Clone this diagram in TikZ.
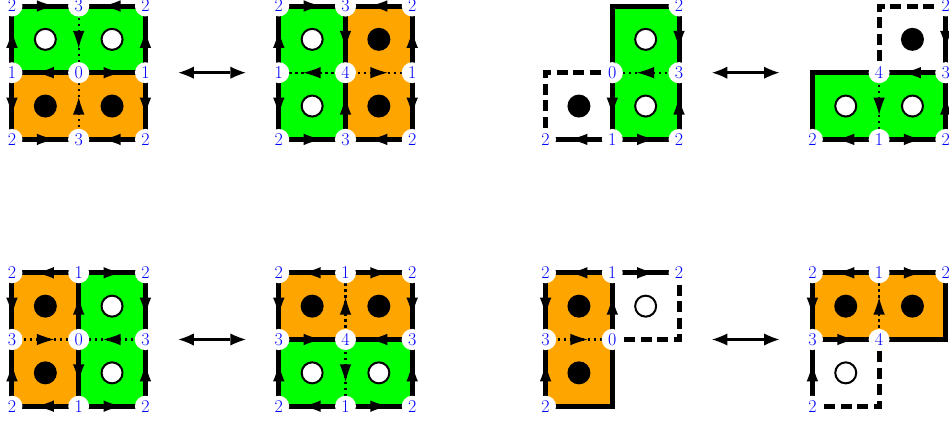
\documentclass[tikz,border=0pt]{standalone}
\usepackage{fontspec}
\usetikzlibrary{arrows.meta,decorations.markings}
\definecolor{gr}{RGB}{0,255,0}
\definecolor{og}{RGB}{255,165,0}
\definecolor{lb}{RGB}{0,0,255}
\tikzset{
 edge/.style={line width=5pt},
 dashedge/.style={line width=5pt, dash pattern=on 11pt off 5.5pt, dash phase=4.8pt},
 dotedge/.style={line width=2.3pt, dash pattern=on 2.2pt off 3.8pt},
 mid/.style={postaction={decorate,decoration={markings,mark=at position 0.5 with {\arrow[xshift=8.5pt]{Latex[length=17pt,width=11.5pt,line width=0pt]}}}}},
 lab/.style={circle,fill=white,inner sep=2.3pt,text=lb,font=\fontsize{18}{20}\selectfont},
 wdisc/.style={circle,draw=black,line width=2pt,fill=white,minimum size=21pt,inner sep=0pt},
 bdisc/.style={circle,fill=black,minimum size=23pt,inner sep=0pt},
 exch/.style={line width=3pt,{Latex[length=15pt,width=12pt,line width=0pt]}-{Latex[length=15pt,width=12pt,line width=0pt]}}
}
\begin{document}
\begin{tikzpicture}[x=66.7pt,y=-66.7pt]
\useasboundingbox (-0.1799,-0.09) rectangle (14.048,6.2219);

% ---------- Panel A ----------
\begin{scope}[shift={(0,0)},name prefix=a-]
\foreach \i in {0,1,2}{\foreach \j in {0,1,2}{\coordinate (c\i\j) at (\i,\j);}}
\fill[gr] (c00) rectangle (c21);
\fill[og] (c01) rectangle (c22);
\node[wdisc] (d1) at (0.5,0.5) {}; \node[wdisc] (d2) at (1.5,0.5) {};
\node[bdisc] (d3) at (0.5,1.5) {}; \node[bdisc] (d4) at (1.5,1.5) {};
\draw[dotedge,mid] (c10) -- (c11);
\draw[dotedge,mid] (c12) -- (c11);
\draw[edge,mid] (c00) -- (c10);
\draw[edge,mid] (c20) -- (c10);
\draw[edge,mid] (c01) -- (c00);
\draw[edge,mid] (c21) -- (c20);
\draw[edge,mid] (c11) -- (c01);
\draw[edge,mid] (c11) -- (c21);
\draw[edge,mid] (c01) -- (c02);
\draw[edge,mid] (c21) -- (c22);
\draw[edge,mid] (c02) -- (c12);
\draw[edge,mid] (c22) -- (c12);
\node[lab] (n00) at (c00) {2}; \node[lab] (n10) at (c10) {3}; \node[lab] (n20) at (c20) {2};
\node[lab] (n01) at (c01) {1}; \node[lab] (n11) at (c11) {0}; \node[lab] (n21) at (c21) {1};
\node[lab] (n02) at (c02) {2}; \node[lab] (n12) at (c12) {3}; \node[lab] (n22) at (c22) {2};
\end{scope}

% ---------- Panel B ----------
\begin{scope}[shift={(4,0)},name prefix=b-]
\foreach \i in {0,1,2}{\foreach \j in {0,1,2}{\coordinate (c\i\j) at (\i,\j);}}
\fill[gr] (c00) rectangle (c12);
\fill[og] (c10) rectangle (c22);
\node[wdisc] (d1) at (0.5,0.5) {}; \node[wdisc] (d2) at (0.5,1.5) {};
\node[bdisc] (d3) at (1.5,0.5) {}; \node[bdisc] (d4) at (1.5,1.5) {};
\draw[dotedge,mid] (c11) -- (c01);
\draw[dotedge,mid] (c11) -- (c21);
\draw[edge,mid] (c00) -- (c10);
\draw[edge,mid] (c20) -- (c10);
\draw[edge,mid] (c01) -- (c00);
\draw[edge,mid] (c21) -- (c20);
\draw[edge,mid] (c10) -- (c11);
\draw[edge,mid] (c12) -- (c11);
\draw[edge,mid] (c01) -- (c02);
\draw[edge,mid] (c21) -- (c22);
\draw[edge,mid] (c02) -- (c12);
\draw[edge,mid] (c22) -- (c12);
\node[lab] (n00) at (c00) {2}; \node[lab] (n10) at (c10) {3}; \node[lab] (n20) at (c20) {2};
\node[lab] (n01) at (c01) {1}; \node[lab] (n11) at (c11) {4}; \node[lab] (n21) at (c21) {1};
\node[lab] (n02) at (c02) {2}; \node[lab] (n12) at (c12) {3}; \node[lab] (n22) at (c22) {2};
\end{scope}

% ---------- Panel C ----------
\begin{scope}[shift={(8,0)},name prefix=c-]
\foreach \i in {0,1,2}{\foreach \j in {0,1,2}{\coordinate (c\i\j) at (\i,\j);}}
\fill[gr] (c10) rectangle (c22);
\node[bdisc] (d1) at (0.5,1.5) {};
\node[wdisc] (d2) at (1.5,0.5) {}; \node[wdisc] (d3) at (1.5,1.5) {};
\draw[dashedge] (c02) -- (c01) -- (c11);
\draw[dotedge,mid] (c21) -- (c11);
\draw[edge] (c11) -- (c10) -- (c20);
\draw[edge,mid] (c20) -- (c21);
\draw[edge,mid] (c11) -- (c12);
\draw[edge,mid] (c22) -- (c21);
\draw[edge,mid] (c12) -- (c22);
\draw[edge,mid] (c12) -- (c02);
\node[lab] (n20) at (c20) {2};
\node[lab] (n11) at (c11) {0}; \node[lab] (n21) at (c21) {3};
\node[lab] (n02) at (c02) {2}; \node[lab] (n12) at (c12) {1}; \node[lab] (n22) at (c22) {2};
\end{scope}

% ---------- Panel D ----------
\begin{scope}[shift={(12,0)},name prefix=d-]
\foreach \i in {0,1,2}{\foreach \j in {0,1,2}{\coordinate (c\i\j) at (\i,\j);}}
\fill[gr] (c01) rectangle (c22);
\node[bdisc] (d1) at (1.5,0.5) {};
\node[wdisc] (d2) at (0.5,1.5) {}; \node[wdisc] (d3) at (1.5,1.5) {};
\draw[dashedge] (c11) -- (c10) -- (c20);
\draw[dotedge,mid] (c11) -- (c12);
\draw[edge] (c11) -- (c01) -- (c02);
\draw[edge,mid] (c20) -- (c21);
\draw[edge,mid] (c21) -- (c11);
\draw[edge,mid] (c12) -- (c02);
\draw[edge,mid] (c12) -- (c22);
\draw[edge,mid] (c22) -- (c21);
\node[lab] (n20) at (c20) {2};
\node[lab] (n11) at (c11) {4}; \node[lab] (n21) at (c21) {3};
\node[lab] (n02) at (c02) {2}; \node[lab] (n12) at (c12) {1}; \node[lab] (n22) at (c22) {2};
\end{scope}

% ---------- Panel E ----------
\begin{scope}[shift={(0,4)},name prefix=e-]
\foreach \i in {0,1,2}{\foreach \j in {0,1,2}{\coordinate (c\i\j) at (\i,\j);}}
\fill[og] (c00) rectangle (c12);
\fill[gr] (c10) rectangle (c22);
\node[bdisc] (d1) at (0.5,0.5) {}; \node[bdisc] (d2) at (0.5,1.5) {};
\node[wdisc] (d3) at (1.5,0.5) {}; \node[wdisc] (d4) at (1.5,1.5) {};
\draw[dotedge,mid] (c01) -- (c11);
\draw[dotedge,mid] (c21) -- (c11);
\draw[edge,mid] (c10) -- (c00);
\draw[edge,mid] (c10) -- (c20);
\draw[edge,mid] (c00) -- (c01);
\draw[edge,mid] (c20) -- (c21);
\draw[edge,mid] (c11) -- (c10);
\draw[edge,mid] (c11) -- (c12);
\draw[edge,mid] (c02) -- (c01);
\draw[edge,mid] (c22) -- (c21);
\draw[edge,mid] (c12) -- (c02);
\draw[edge,mid] (c12) -- (c22);
\node[lab] (n00) at (c00) {2}; \node[lab] (n10) at (c10) {1}; \node[lab] (n20) at (c20) {2};
\node[lab] (n01) at (c01) {3}; \node[lab] (n11) at (c11) {0}; \node[lab] (n21) at (c21) {3};
\node[lab] (n02) at (c02) {2}; \node[lab] (n12) at (c12) {1}; \node[lab] (n22) at (c22) {2};
\end{scope}

% ---------- Panel F ----------
\begin{scope}[shift={(4,4)},name prefix=f-]
\foreach \i in {0,1,2}{\foreach \j in {0,1,2}{\coordinate (c\i\j) at (\i,\j);}}
\fill[og] (c00) rectangle (c21);
\fill[gr] (c01) rectangle (c22);
\node[bdisc] (d1) at (0.5,0.5) {}; \node[bdisc] (d2) at (1.5,0.5) {};
\node[wdisc] (d3) at (0.5,1.5) {}; \node[wdisc] (d4) at (1.5,1.5) {};
\draw[dotedge,mid] (c11) -- (c10);
\draw[dotedge,mid] (c11) -- (c12);
\draw[edge,mid] (c10) -- (c00);
\draw[edge,mid] (c10) -- (c20);
\draw[edge,mid] (c00) -- (c01);
\draw[edge,mid] (c20) -- (c21);
\draw[edge,mid] (c01) -- (c11);
\draw[edge,mid] (c21) -- (c11);
\draw[edge,mid] (c02) -- (c01);
\draw[edge,mid] (c22) -- (c21);
\draw[edge,mid] (c12) -- (c02);
\draw[edge,mid] (c12) -- (c22);
\node[lab] (n00) at (c00) {2}; \node[lab] (n10) at (c10) {1}; \node[lab] (n20) at (c20) {2};
\node[lab] (n01) at (c01) {3}; \node[lab] (n11) at (c11) {4}; \node[lab] (n21) at (c21) {3};
\node[lab] (n02) at (c02) {2}; \node[lab] (n12) at (c12) {1}; \node[lab] (n22) at (c22) {2};
\end{scope}

% ---------- Panel G ----------
\begin{scope}[shift={(8,4)},name prefix=g-]
\foreach \i in {0,1,2}{\foreach \j in {0,1,2}{\coordinate (c\i\j) at (\i,\j);}}
\fill[og] (c00) rectangle (c12);
\node[bdisc] (d1) at (0.5,0.5) {}; \node[bdisc] (d2) at (0.5,1.5) {};
\node[wdisc] (d3) at (1.5,0.5) {};
\draw[dashedge] (c20) -- (c21) -- (c11);
\draw[dotedge,mid] (c01) -- (c11);
\draw[edge,mid] (c10) -- (c00);
\draw[edge,mid] (c10) -- (c20);
\draw[edge,mid] (c00) -- (c01);
\draw[edge,mid] (c11) -- (c10);
\draw[edge,mid] (c02) -- (c01);
\draw[edge] (c11) -- (c12) -- (c02);
\node[lab] (n00) at (c00) {2}; \node[lab] (n10) at (c10) {1}; \node[lab] (n20) at (c20) {2};
\node[lab] (n01) at (c01) {3}; \node[lab] (n11) at (c11) {0};
\node[lab] (n02) at (c02) {2};
\end{scope}

% ---------- Panel H ----------
\begin{scope}[shift={(12,4)},name prefix=h-]
\foreach \i in {0,1,2}{\foreach \j in {0,1,2}{\coordinate (c\i\j) at (\i,\j);}}
\fill[og] (c00) rectangle (c21);
\node[bdisc] (d1) at (0.5,0.5) {}; \node[bdisc] (d2) at (1.5,0.5) {};
\node[wdisc] (d3) at (0.5,1.5) {};
\draw[dashedge] (c02) -- (c12) -- (c11);
\draw[dotedge,mid] (c11) -- (c10);
\draw[edge,mid] (c10) -- (c00);
\draw[edge,mid] (c10) -- (c20);
\draw[edge,mid] (c00) -- (c01);
\draw[edge,mid] (c01) -- (c11);
\draw[edge,mid] (c02) -- (c01);
\draw[edge] (c11) -- (c21) -- (c20);
\node[lab] (n00) at (c00) {2}; \node[lab] (n10) at (c10) {1}; \node[lab] (n20) at (c20) {2};
\node[lab] (n01) at (c01) {3}; \node[lab] (n11) at (c11) {4};
\node[lab] (n02) at (c02) {2};
\end{scope}

% ---------- exchange arrows ----------
\coordinate (x1) at (2.5,1); \coordinate (x2) at (3.5,1);
\coordinate (x3) at (10.5,1); \coordinate (x4) at (11.5,1);
\coordinate (x5) at (2.5,5); \coordinate (x6) at (3.5,5);
\coordinate (x7) at (10.5,5); \coordinate (x8) at (11.5,5);
\draw[exch] (x1) -- (x2);
\draw[exch] (x3) -- (x4);
\draw[exch] (x5) -- (x6);
\draw[exch] (x7) -- (x8);
\end{tikzpicture}
\end{document}
